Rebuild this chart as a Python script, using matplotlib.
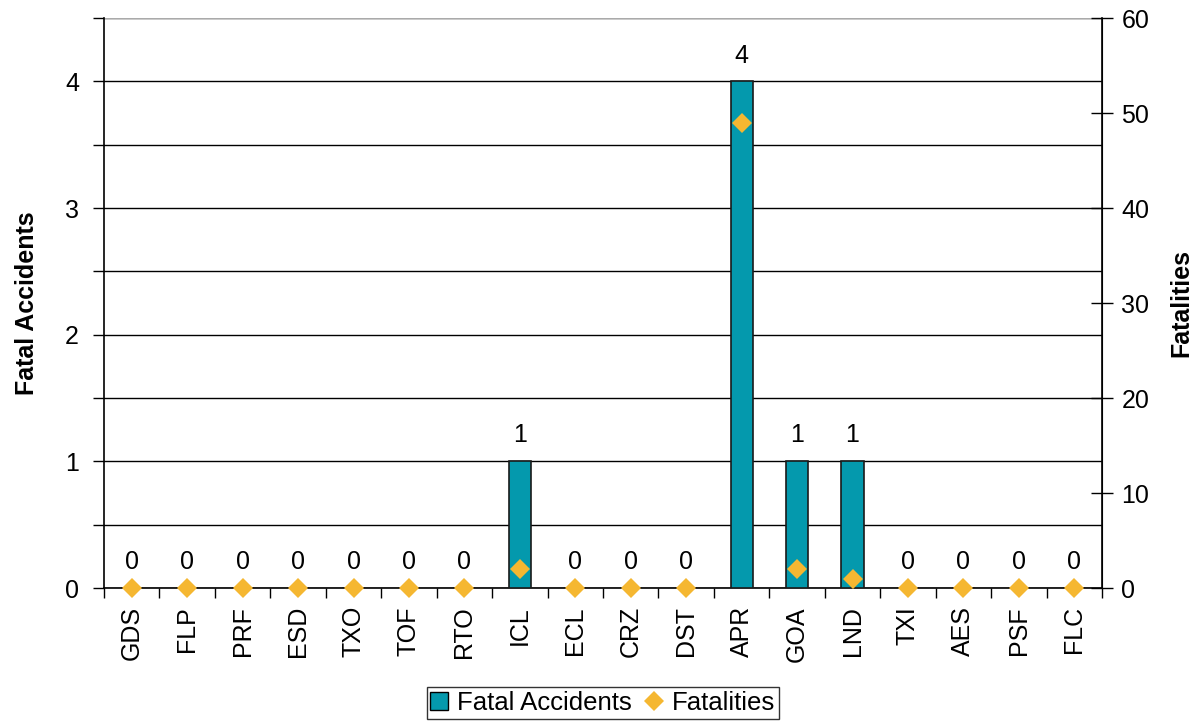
import matplotlib
matplotlib.use("Agg")
import matplotlib.pyplot as plt
from matplotlib.ticker import MultipleLocator
from matplotlib.patches import Patch
from matplotlib.lines import Line2D
import numpy as np

plt.rcParams['font.family'] = ['Liberation Sans', 'DejaVu Sans']

categories = ["GDS", "FLP", "PRF", "ESD", "TXO", "TOF", "RTO", "ICL", "ECL", "CRZ",
              "DST", "APR", "GOA", "LND", "TXI", "AES", "PSF", "FLC"]
fatal_accidents = [0, 0, 0, 0, 0, 0, 0, 1, 0, 0, 0, 4, 1, 1, 0, 0, 0, 0]
fatalities = [0, 0, 0, 0, 0, 0, 0, 2, 0, 0, 0, 49, 2, 1, 0, 0, 0, 0]

bar_color = "#0499AD"
dia_color = "#F5B731"
FS = 18

fig = plt.figure(figsize=(12.01, 7.23), dpi=100)
ax = fig.add_axes([0.0866, 0.1867, 0.9176 - 0.0866, 0.975 - 0.1867])
x = np.arange(len(categories))
ax.bar(x, fatal_accidents, width=0.4, color=bar_color, edgecolor="#1a1a1a", linewidth=1.2, zorder=3)
ax.set_xlim(-0.5, len(categories) - 0.5)
ax.set_ylim(0, 4.5)
ax.yaxis.set_major_locator(MultipleLocator(1))
ax.yaxis.set_minor_locator(MultipleLocator(0.5))
ax.grid(axis='y', which='both', color='black', linewidth=1.0, zorder=0)
ax.set_axisbelow(True)
ax.set_xticks(x)
ax.set_xticklabels(categories, rotation=90, fontsize=FS)
ax.set_xticks(np.arange(-0.5, len(categories), 1), minor=True)
ax.tick_params(axis='x', which='major', length=0, pad=13)
ax.tick_params(axis='x', which='minor', length=7, width=1, direction='out')
ax.tick_params(axis='y', which='both', length=8, width=1, direction='out', labelsize=FS, pad=10)
ax.spines['top'].set_visible(False)
ax.spines['left'].set_linewidth(1.2)
ax.spines['bottom'].set_linewidth(1.2)
ax.set_ylabel("Fatal Accidents", fontsize=FS, fontweight='bold', labelpad=19)
ax.axhline(4.5, color='#aaaaaa', linewidth=1.5, zorder=1)

for xi, v in zip(x, fatal_accidents):
    ax.annotate(str(v), (xi, v), xytext=(0, 10), textcoords='offset points',
                ha='center', va='bottom', fontsize=FS, zorder=5)

ax2 = ax.twinx()
ax2.set_ylim(0, 60)
ax2.yaxis.set_major_locator(MultipleLocator(10))
ax2.plot(x, fatalities, linestyle='none', marker='D', markersize=10.5,
         color=dia_color, markeredgewidth=0, zorder=6, clip_on=False)
ax2.tick_params(axis='y', which='major', length=16, width=1, direction='inout', labelsize=FS, pad=6)
ax2.spines['top'].set_visible(False)
ax2.spines['left'].set_visible(False)
ax2.spines['bottom'].set_visible(False)
ax2.spines['right'].set_linewidth(1.2)
ax2.set_ylabel("Fatalities", fontsize=FS, fontweight='bold', labelpad=14)

handles = [Patch(facecolor=bar_color, edgecolor='black', linewidth=1),
           Line2D([], [], linestyle='none', marker='D', markersize=10.5, color=dia_color, markeredgewidth=0)]
leg = fig.legend(handles, ["Fatal Accidents", "Fatalities"], loc='center', bbox_to_anchor=(0.502, 0.0275),
                 ncol=2, fontsize=18.5, frameon=True, fancybox=False, edgecolor='black',
                 handlelength=0.7, handletextpad=0.35, columnspacing=0.5, borderpad=0.15,
                 handleheight=0.7)
leg.get_frame().set_linewidth(1)

fig.savefig("out.png", dpi=100)
